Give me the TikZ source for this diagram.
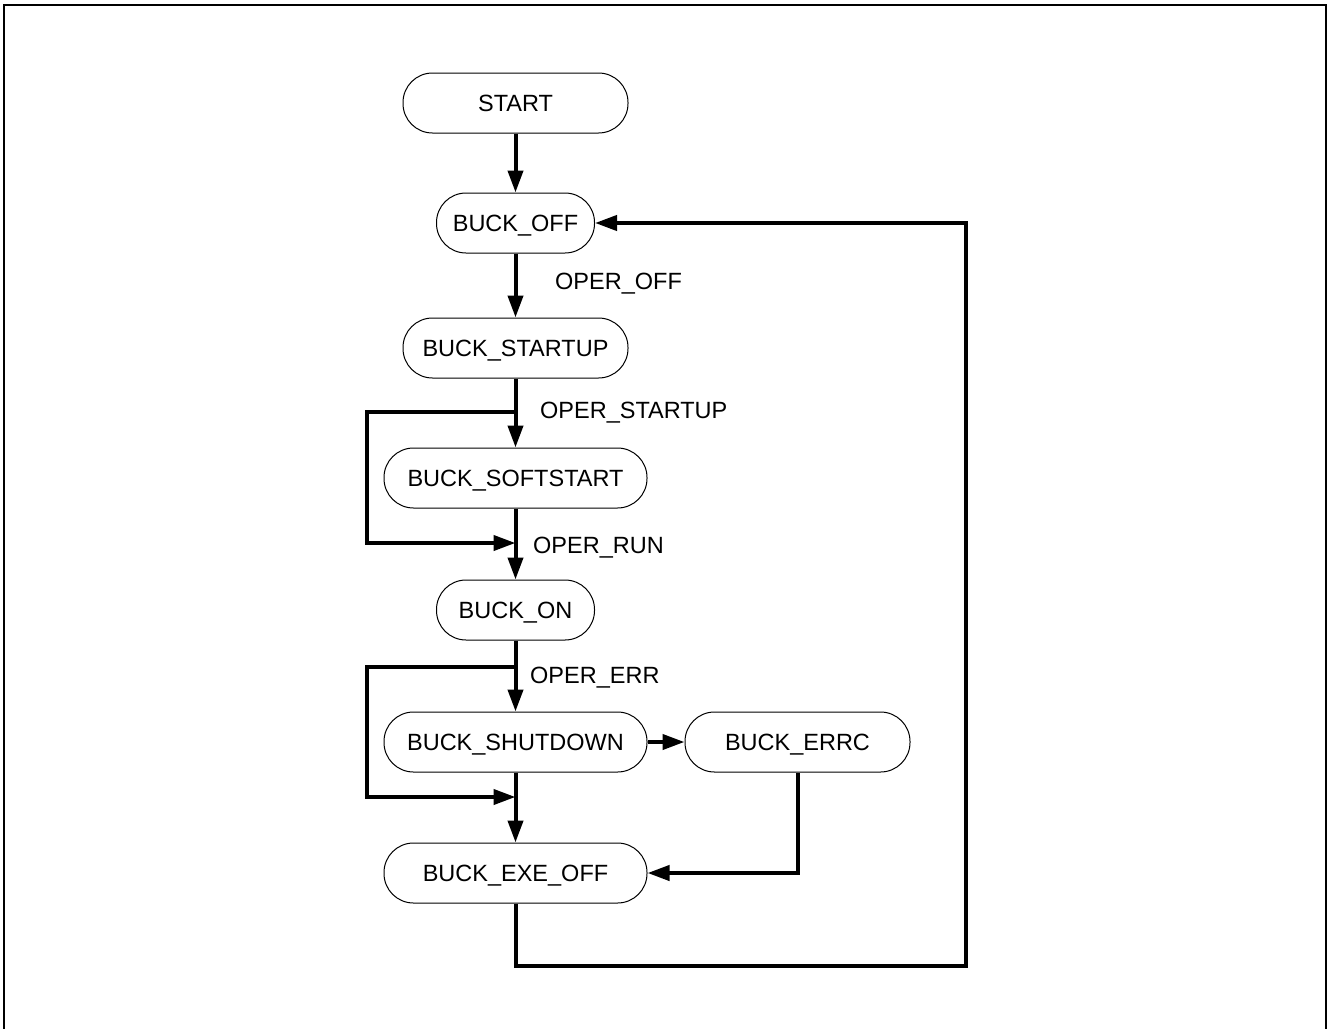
\documentclass[tikz,border=0pt]{standalone}
\usepackage{fontspec}
\setmainfont{Liberation Sans}
\usetikzlibrary{arrows.meta}
\begin{document}
\begin{tikzpicture}[x=1pt,y=-1pt,
  state/.style={draw, line width=1pt, rounded corners=29.5pt, minimum height=60pt, inner sep=0pt, text height=17pt, text depth=0pt, font=\fontsize{23.5}{28}\selectfont},
  lbl/.style={anchor=west, inner sep=0pt, text height=17pt, text depth=0pt, font=\fontsize{23.5}{28}\selectfont},
  conn/.style={line width=4pt},
  arr/.style={conn, -{Triangle[length=22pt,width=15pt]}}]
\useasboundingbox (0,0) rectangle (1329,1028);
\draw[line width=2.5pt] (4,1040) -- (4,5) -- (1326,5) -- (1326,1040);
\node[state, minimum width=225pt] (start) at (515.5,103) {START};
\node[state, minimum width=158pt] (off) at (515.5,223) {BUCK\_OFF};
\node[state, minimum width=225pt] (startup) at (515.5,348) {BUCK\_STARTUP};
\node[state, minimum width=263pt] (soft) at (515.5,478) {BUCK\_SOFTSTART};
\node[state, minimum width=158pt] (on) at (515.5,610) {BUCK\_ON};
\node[state, minimum width=263pt] (shut) at (515.5,742) {BUCK\_SHUTDOWN};
\node[state, minimum width=225pt] (errc) at (797.5,742) {BUCK\_ERRC};
\node[state, minimum width=263pt] (exe) at (515.5,873) {BUCK\_EXE\_OFF};
\coordinate (j1) at (515.5,412);
\coordinate (m1) at (515.5,543);
\coordinate (j2) at (515.5,667);
\coordinate (m2) at (515.5,797);
\node[lbl] (l1) at (555,281) {OPER\_OFF};
\node[lbl] (l2) at (540,410) {OPER\_STARTUP};
\node[lbl] (l3) at (533,545) {OPER\_RUN};
\node[lbl] (l4) at (530,675) {OPER\_ERR};
\draw[arr] (start) -- (off);
\draw[arr] (off) -- (startup);
\draw[arr] (startup) -- (soft);
\draw[arr] (soft) -- (on);
\draw[arr] (on) -- (shut);
\draw[arr] (shut) -- (exe);
\draw[arr] (shut) -- (errc);
\draw[arr] (j1) -- (367,412) -- (367,543) -- (m1);
\draw[arr] (j2) -- (367,667) -- (367,797) -- (m2);
\draw[arr] (errc.south -| 798,0) -- (798,873) -- (exe.east);
\draw[arr] (exe.south) -- (515.5,966) -- (966,966) -- (966,223) -- (off.east);
\end{tikzpicture}
\end{document}
